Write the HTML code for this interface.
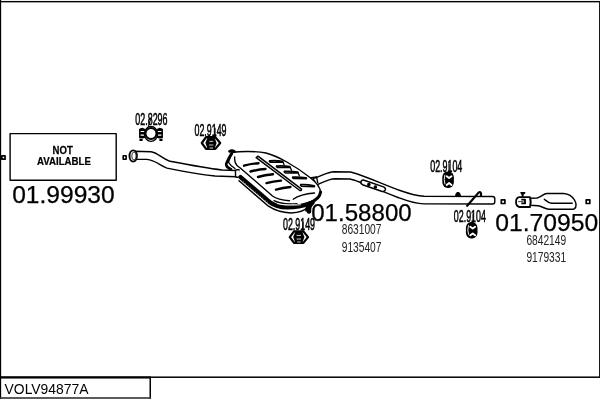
<!DOCTYPE html>
<html><head><meta charset="utf-8"><title>VOLV94877A</title>
<style>
html,body{margin:0;padding:0;background:#fff;}
body{width:600px;height:400px;overflow:hidden;}
svg{display:block;will-change:transform;-webkit-font-smoothing:antialiased;}
text{font-family:"Liberation Sans",sans-serif;fill:#000;}
.s{stroke:#000;stroke-width:.55;}
.s2{stroke:#000;stroke-width:.25;}
.p{fill:#222;}
.b{font-weight:bold;}
.l{fill:none;stroke:#000;stroke-width:1.4;stroke-linecap:round;stroke-linejoin:round;}
.t{fill:none;stroke:#000;stroke-width:2.2;stroke-linecap:round;stroke-linejoin:round;}
.w{fill:#fff;stroke:#000;stroke-width:1.4;stroke-linejoin:round;}
.k{fill:#000;stroke:#000;stroke-width:1;stroke-linejoin:round;}
.wl{fill:none;stroke:#fff;stroke-width:1;stroke-linecap:round;}
</style></head><body>
<svg width="600" height="400" viewBox="0 0 600 400">
<rect width="600" height="400" fill="#fff"/>
<!-- frame -->
<g fill="#000">
<rect x="0" y="0.950" width="600" height="1.400"/>
<rect x="0" y="0" width="1.150" height="399"/>
<rect x="599.100" y="1" width="0.900" height="376.500"/>
<rect x="0" y="376.450" width="600" height="1.500"/>
<rect x="0" y="376.450" width="151" height="2.100"/>
<rect x="149.500" y="377" width="1.500" height="21.700"/>
<rect x="0" y="397.200" width="151.100" height="1.600" fill="#333"/>
</g>
<text x="4.600" y="394.300" font-size="13.900">VOLV94877A</text>

<!-- not available box -->
<rect x="10.100" y="133.600" width="106.100" height="46.700" class="w" style="stroke-width:1.400"/>
<rect x="1.850" y="155.850" width="3.200" height="3.300" class="w" style="stroke-width:1.700"/>
<text class="b s2" font-size="11" transform="translate(62.700 153.500) scale(.87 1)" text-anchor="middle">NOT</text>
<text class="b s2" font-size="11" transform="translate(64 165.300) scale(.88 1)" text-anchor="middle">AVAILABLE</text>
<text class="s2" font-size="23.500" x="12.200" y="203" textLength="102.500" lengthAdjust="spacingAndGlyphs">01.99930</text>

<!-- small squares -->
<rect x="123.200" y="155.800" width="2.900" height="3.400" class="w" style="stroke-width:1.600"/>
<rect x="501.300" y="199.900" width="3.600" height="3.600" class="w" style="stroke-width:1.700"/>
<rect x="586.200" y="199.900" width="3.600" height="3.600" class="w" style="stroke-width:1.700"/>

<!-- front pipe -->
<g id="frontpipe">
<path class="w" d="M134 151.300 L151 151.700 C157 152.500 161 157.500 169.400 161.200 C182 163.600 205 168 222 170 L236 170.500 L236 176.800 L215 176 C200 174.500 185 171.800 167 168.100 C160 165.500 155 160 147 159.400 L134 159.200 Z"/>
<ellipse cx="133.200" cy="156" rx="3.700" ry="5.600" class="w" style="stroke-width:1.900"/>
<ellipse cx="134" cy="156" rx="2.200" ry="4" fill="none" stroke="#333" stroke-width="1"/>
<rect x="235.5" y="169.7" width="4.8" height="7.6" rx="1.5" class="w"/>
</g>

<!-- clamp 02.8296 -->
<g id="clamp">
<path class="l" d="M150.300 120L148.400 126.600" style="stroke-width:1.100"/>
<g fill="#000">
<path d="M139.200 129.600 Q139.200 128.400 140.500 128.200 L142.600 127.700 L145.600 129.200 V130.900 H139.200Z"/>
<rect x="139.200" y="132" width="7.400" height="2.500"/>
<path d="M139.200 135.700 H145.400 V137.800 L142.600 138.600 L139.200 138.200Z"/>
<rect x="139.100" y="129" width="1.500" height="8.500"/>
<rect x="139.500" y="138.900" width="3.100" height="2.100"/>
<path d="M162.800 129.600 Q162.800 128.400 161.500 128.200 L159.400 127.700 L156.400 129.200 V130.900 H162.800Z"/>
<rect x="155.400" y="132" width="7.400" height="2.500"/>
<path d="M162.800 135.700 H156.600 V137.800 L159.400 138.600 L162.800 138.200Z"/>
<rect x="161.400" y="129" width="1.500" height="8.500"/>
<rect x="159.400" y="138.900" width="3.100" height="2.100"/>
</g>
<ellipse cx="151" cy="133.900" rx="6.500" ry="7.500" fill="#fff" stroke="#000" stroke-width="1.400"/>
<circle cx="151" cy="133.500" r="5.500" fill="#fff" stroke="#000" stroke-width="2"/>
</g>

<!-- nuts 02.9149 -->
<g id="nut1">
<path class="l" d="M215 128V137" style="stroke-width:1.2"/>
<path d="M201.800 143 L206 137.200 L215.400 137.200 L220.200 143 L215.400 148.900 L206 148.900 Z" fill="#fff" stroke="#000" stroke-linejoin="round" stroke-width="2.200"/>
<path d="M205.400 143 L207.500 137.500 H214.500 L216.600 143 L214.500 148.800 H207.500 Z" fill="#000"/>
<path class="wl" d="M209.8 141.4h3 M209.5 145h3.4 M210 148h2.6" style="stroke-width:.8"/>
</g>
<g id="nut2">
<path class="l" d="M302.900 222V231" style="stroke-width:1.200"/>
<path d="M289.800 237.100 L294 231.400 L303.400 231.400 L308 237.100 L303.400 242.900 L294 242.900 Z" fill="#fff" stroke="#000" stroke-linejoin="round" stroke-width="2.200"/>
<path d="M293.200 237.100 L295.300 231.700 H302.300 L304.400 237.100 L302.300 242.800 H295.300 Z" fill="#000"/>
<path class="wl" d="M297 235.4h3.6 M297 239h3.6 M297.6 242h2.6" style="stroke-width:.8"/>
</g>

<!-- rubber hangers 02.9104 -->
<g>
<path class="l" d="M449 164V172.5" style="stroke-width:1.100"/>
<rect x="442.3" y="171.6" width="11.600" height="16.400" rx="5.200" ry="6" fill="#000"/>
<path class="wl" d="M446.7 176.3L449.1 178.1L451.5 176.3 M446.7 184.9L449.1 183.0L451.5 184.9" style="stroke-width:1.900;stroke-linejoin:round"/>
<path d="M444.9 174.8Q443.5 179.8 445.0 184.3" fill="none" stroke="#eee" stroke-width="1"/>
</g>
<g>
<path class="l" d="M473 214V223.5" style="stroke-width:1.100"/>
<rect x="465.9" y="222.0" width="11.600" height="16.400" rx="5.200" ry="6" fill="#000"/>
<path class="wl" d="M470.3 226.7L472.7 228.5L475.1 226.7 M470.3 235.3L472.7 233.4L475.1 235.3" style="stroke-width:1.900;stroke-linejoin:round"/>
<path d="M468.5 225.2Q467.1 230.2 468.6 234.7" fill="none" stroke="#eee" stroke-width="1"/>
</g>

<!-- rear pipe -->
<g id="rearpipe">
<path class="w" d="M313 178.5 C322 176.5 326 172 334 171.7 L350 172 C358 173 380 183 400 190.5 C410 194 416 196 424 196.3 L492.5 196.5 Q494.8 196.5 494.8 198.8 L494.8 201.7 Q494.8 204 492.5 204 L424 203.9 C414 203.7 406 200.5 398 197.5 C380 191 360 181 350 179 L335 178.7 C328 179 324 182 317 185 Z"/>
<path class="w" d="M363.400 180 L383.500 186.900 Q386 188 385.300 190 Q384.300 192 381.500 191.300 L362.500 184.700 Q360.300 183.600 361 181.600 Q361.800 179.700 363.400 180 Z" style="stroke-width:1.500"/>
<circle cx="368.800" cy="184.500" r="1.800" fill="#000"/><circle cx="375.400" cy="187" r="1.800" fill="#000"/>
<path d="M455.600 196.300 Q455.600 192.300 458 192.300 Q460.400 192.300 460.400 196.300 Z" fill="#000" stroke="#000" stroke-width="1"/>
<path class="t" d="M467.2 205.8 L478.8 192.400 Q480.500 191.500 481 193.500 L481 196"/>
</g>

<!-- muffler -->
<g id="muffler">
<!-- body fill -->
<path d="M232 152 C240 151 258 151 270 154 C282 158 300 169 312 179 C320 186 322 192 319 197 C316 201 311 203 309 204 C306 209 300 211 290 212 C284 211 276 207 270 203 L238 179 L240 168 L236 164 L234.5 157 Z" fill="#fff"/>
<!-- top outline -->
<path class="l" d="M233 152.300 C240 151.200 256 151 266 153 C278 156 296 166.500 310 177.500 C317 183 321 188.500 320.300 193"/>
<path class="t" d="M320.600 192 C320 197 315 200.800 309.500 203" style="stroke-width:3"/>
<path class="t" d="M312.500 202.500 C309.500 205 308.500 208 309 211.500" style="stroke-width:4.600"/>
<!-- end cap left -->
<path d="M229.500 151.400 Q232 149.800 234.600 151.600" class="t" style="stroke-width:2.600"/>
<path class="t" d="M232 152.500 C230 156 227.500 160 226.200 164 C226 166.500 228 168 231 169.200" style="stroke-width:2.600"/>
<path class="l" d="M232.600 153.500 C230.500 157 228.800 160 228.600 162.500 C230 165 232 166.500 235 168.500"/>
<!-- face edge A -->
<path class="l" d="M234.700 157 C234.400 160 235 163.500 237 165.500 C238 166.500 239 167 240 167.800 L272.500 196 C276 198.600 282 200.200 289.500 200.700"/>
<!-- crease -->
<path class="l" d="M293.200 199.200 C297 196.500 304 193.800 314.500 193"/>
<!-- thick band -->
<path class="t" d="M240.500 177.200 L269.500 201.900 C274 205.300 280 207.200 287 207.400 C296 207.200 304 205.500 309.500 203.500" style="stroke-width:4.400"/>
<path d="M243 181.300 L270 204.300" fill="none" stroke="#fff" stroke-dasharray=".8 2.400" stroke-width=".6"/>
<!-- line B after bend -->
<path class="l" d="M274 200.600 C279 203.300 287 204.300 297 203.500" style="stroke-width:1.200"/>
<path d="M277 203.400 C283 205.300 292 205.600 301 204.700" fill="none" stroke="#fff" stroke-width=".8"/>
<!-- bottom D -->
<path class="l" d="M239 180.800 L268.500 206.200 C275 210.600 283 212.600 291 212.900 C298 212.700 305 210.500 308.500 206.500" style="stroke-width:1.500"/>
<path class="t" d="M307.500 205 L306.500 210.500" style="stroke-width:2.600"/>
<!-- ridge -->
<path class="l" d="M256.200 157.600 L299.800 190.500 M258 156.200 L301.500 189.200 M256.200 157.600 L258 156.200 M299.800 190.500 Q301.500 191 301.500 189.200" style="stroke-width:1.500"/>
<!-- left ribs -->
<path class="t" d="M244 165.700 Q251 163.700 258.500 163.200 M250.500 171.500 Q258 169.500 265.500 169 M258 177 Q265 175 273 174.200 M266.500 183.100 Q273 181.300 281 180.600 M276 189.600 Q283 187.600 290.500 187" style="stroke-width:2.400"/>
<!-- right ribs -->
<g fill="#ccc" stroke="#000" stroke-width="1.500">
<path d="M269.600 160.800 Q276 160.100 282.600 161.300 Q283.400 162.200 282.400 162.300 L270.500 162.300 Q268.800 161.600 269.600 160.800Z"/>
<path d="M276.600 165.900 Q283 165.300 289.800 166.500 Q290.600 167.400 289.600 167.500 L277.500 167.500 Q275.800 166.800 276.600 165.900Z"/>
<path d="M284.400 171.300 Q291 170.800 297.800 172.100 Q298.600 173 297.600 173.100 L285.400 172.900 Q283.700 172.200 284.400 171.300Z"/>
<path d="M292.800 177 Q299 176.600 306.200 177.800 Q307 178.700 306 178.800 L293.600 178.600 Q292 177.900 292.800 177Z"/>
<path d="M300.800 184.600 Q307 184.200 314.200 185.800 Q315 186.700 314 186.800 L301.600 186.200 Q300 185.500 300.800 184.600Z"/>
</g>
<path class="l" d="M283 162.300 L284.200 165 M290.300 167.600 L291.500 170.200 M298.300 173.200 L299.400 176" style="stroke-width:1.300"/>
</g>
<!-- exit collar -->
<path class="l" d="M311.300 177.700 L316.500 176.900 L317.800 182.800"/>

<!-- tail pipe -->
<g id="tail">
<path class="w" d="M530.500 198.300 L537 197.900 C541.500 197 543 193.700 547 193.500 L563.500 193.400 C568.500 193.800 572.500 196.500 574.500 200 C576.300 203.500 576.500 207 574.500 208.600 Q573.500 209.300 572 209.300 L549 209.300 C545 209 542 206.300 538 205.700 L530.500 205.200 Z" style="stroke-width:1.500"/>
<path class="l" d="M544.300 199.300 C546.500 201 548.500 203 551.500 203.200 L572.200 203.200"/>
<path class="w" d="M519.500 197.200 L530 197.200 Q531.200 202 530 207 L519.500 207 Q516 206.500 516 202.100 Q516 197.600 519.500 197.200 Z" style="stroke-width:1.800"/>
<path d="M518 201.600 H523.500" fill="none" stroke="#444" stroke-width="1"/>
<path class="l" d="M521.300 199.700 H525 V203.400 H521.300" style="stroke-width:1.800;stroke-linecap:butt"/>
<path class="l" d="M522.600 194 V197.500" style="stroke-width:2;stroke-linecap:butt"/>
<path d="M520.400 192 H525.300 V193.200 L523.400 194.800 H521.900 L520.400 193.200 Z" fill="#000"/>
</g>

<!-- labels -->
<text class="s" font-size="15.600" transform="translate(135.300 125.300) scale(.572 1)">02.8296</text>
<text class="s" font-size="16" transform="translate(194.500 135.500) scale(.555 1)">02.9149</text>
<text class="s" font-size="16" transform="translate(283 230.400) scale(.555 1)">02.9149</text>
<text class="s" font-size="16" transform="translate(430.200 171.600) scale(.555 1)">02.9104</text>
<text class="s" font-size="16" transform="translate(453.800 222.100) scale(.555 1)">02.9104</text>

<text class="s2" font-size="24.300" x="311.200" y="220.500" textLength="100.500" lengthAdjust="spacingAndGlyphs">01.58800</text>
<text class="p" font-size="14" transform="translate(341.700 234.400) scale(.73 1)">8631007</text>
<text class="p" font-size="14" transform="translate(341.700 252) scale(.73 1)">9135407</text>

<text class="s2" font-size="24.300" x="495.200" y="231.100" textLength="103" lengthAdjust="spacingAndGlyphs">01.70950</text>
<text class="p" font-size="14" transform="translate(526.400 245) scale(.73 1)">6842149</text>
<text class="p" font-size="14" transform="translate(526.400 262) scale(.73 1)">9179331</text>
</svg>
</body></html>
